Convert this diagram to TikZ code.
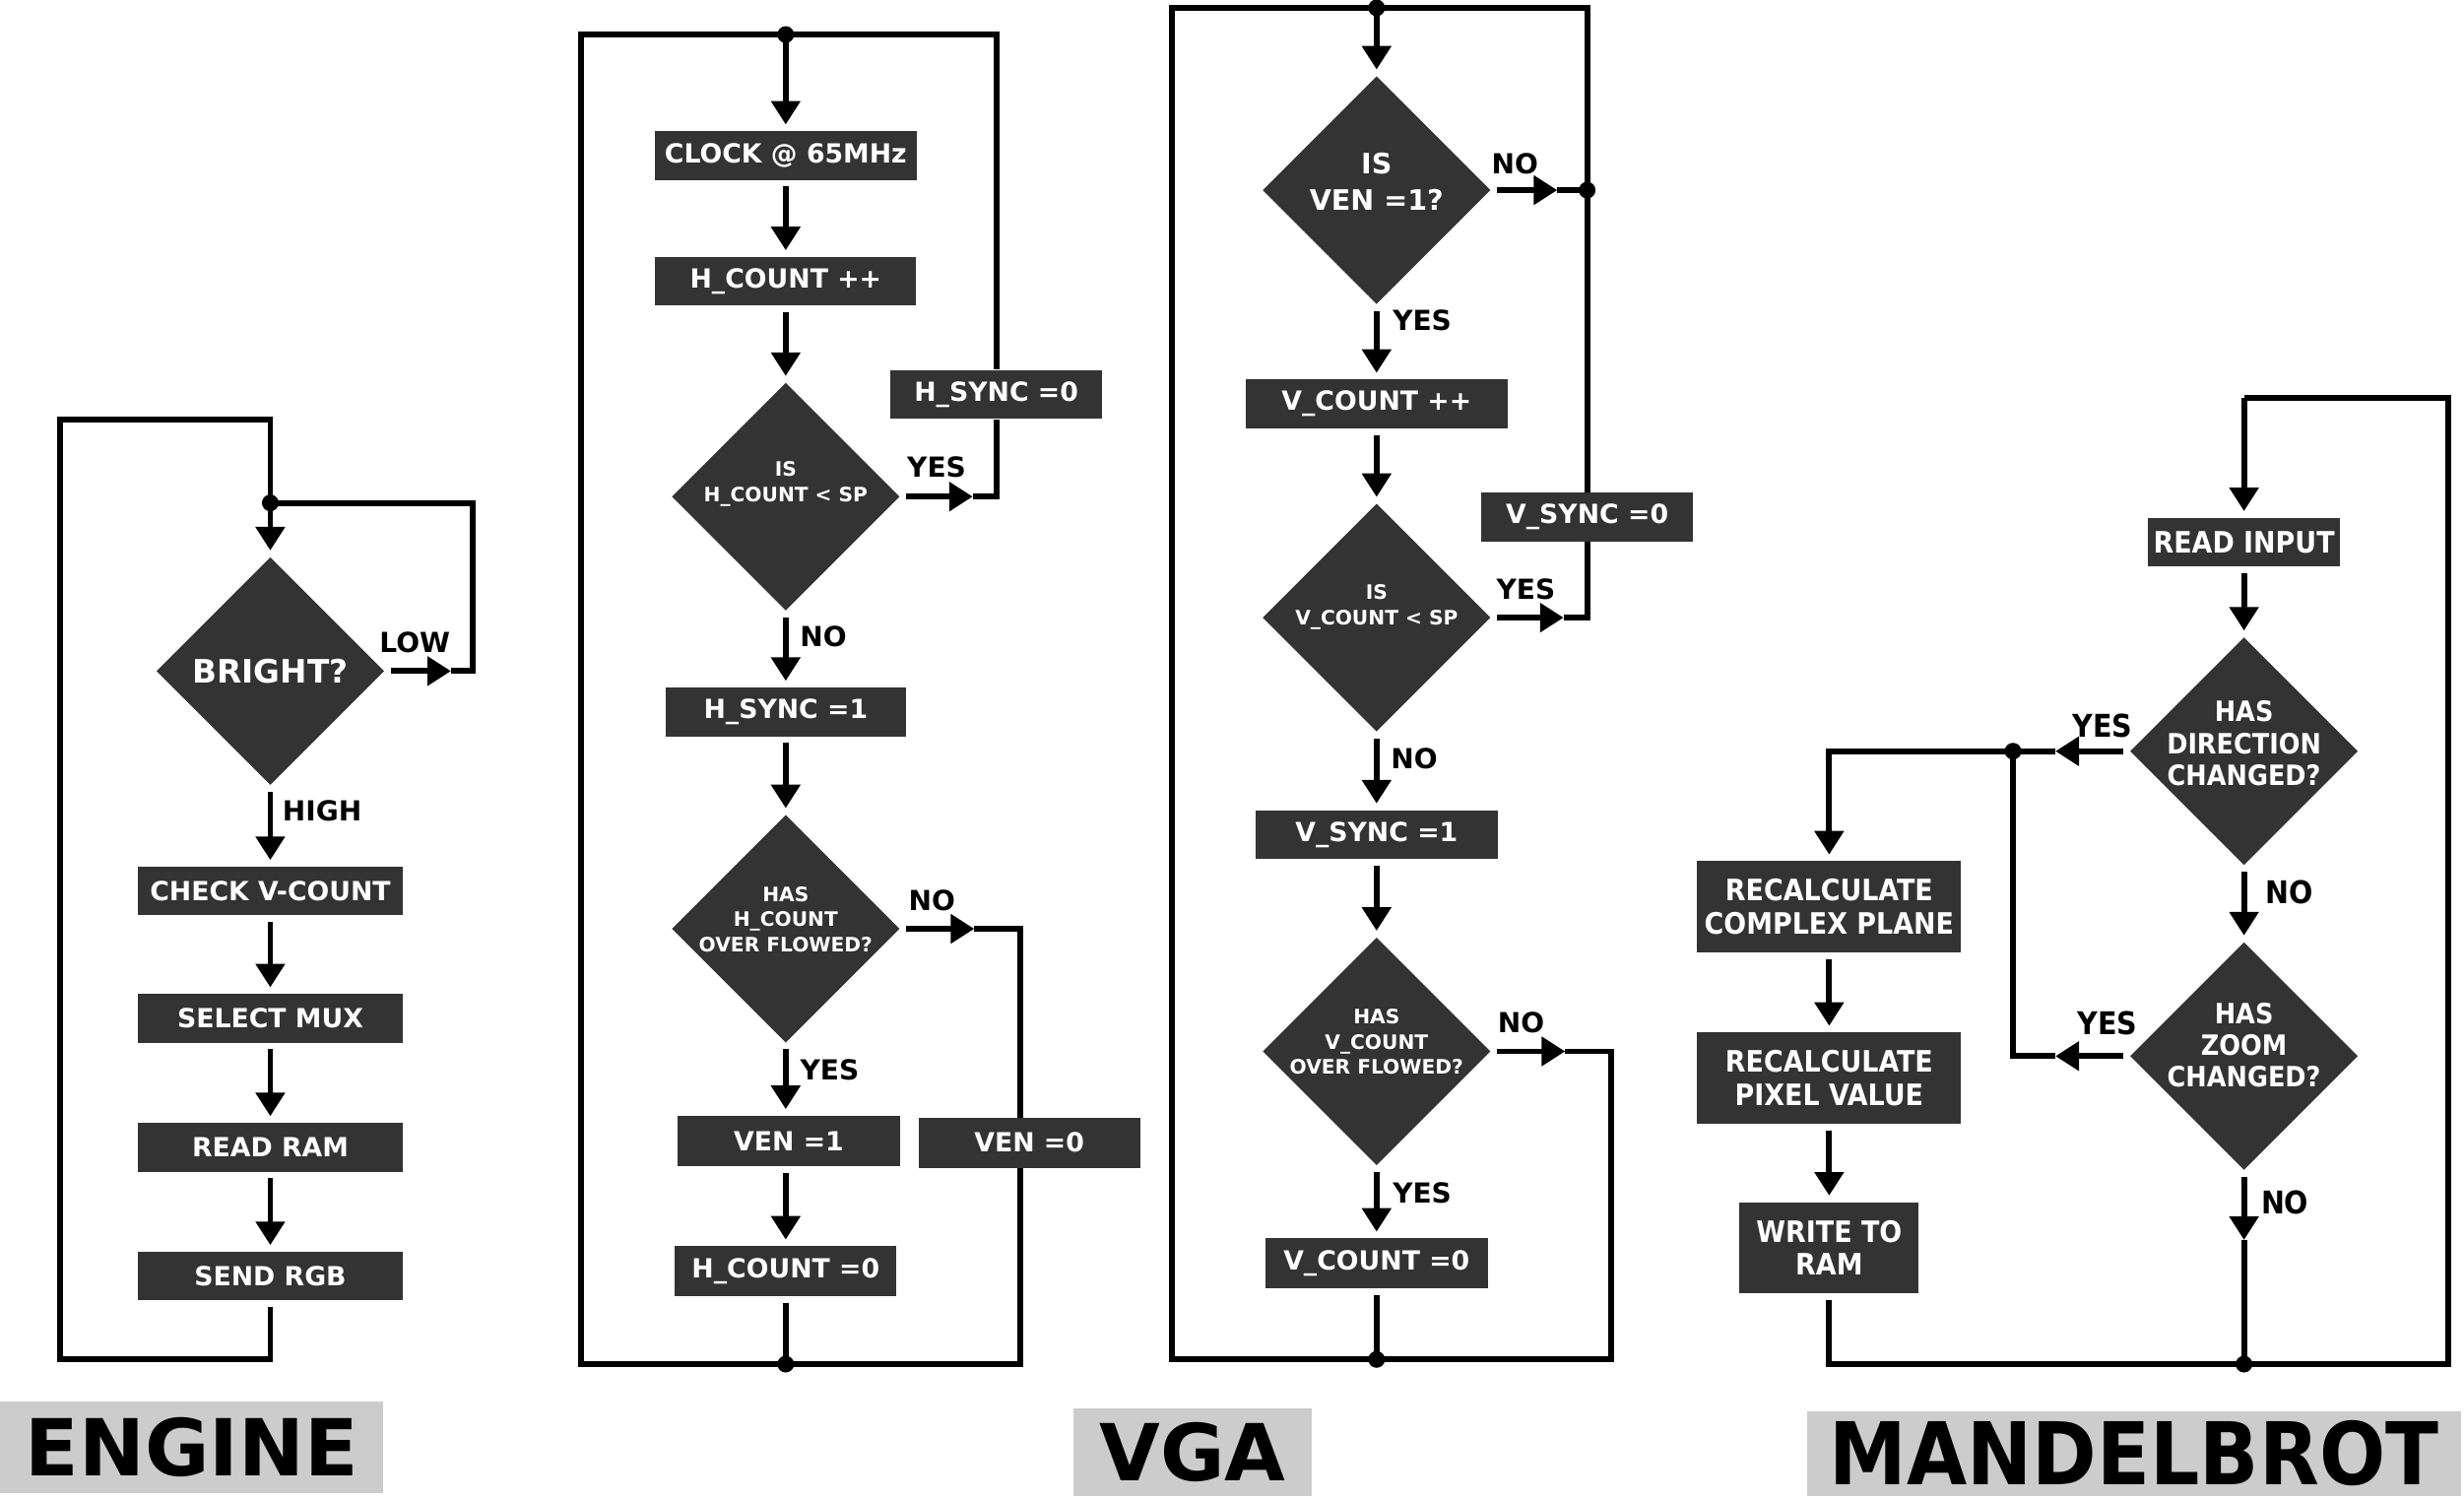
\documentclass[tikz,border=0pt]{standalone}
\usepackage{fontspec}
\setmainfont{DejaVu Sans}
\newfontfamily\condensed{DejaVu Sans Condensed}
\usetikzlibrary{shapes.geometric,arrows.meta}
\definecolor{boxgray}{HTML}{333333}
\definecolor{labelgray}{HTML}{CCCCCC}
\tikzset{
  box/.style={fill=boxgray, text=white, inner sep=0pt, minimum height=0.93cm, align=center,
    font=\fontsize{14.3}{17}\selectfont\bfseries},
  mbox/.style={box, minimum height=1.74cm, font=\condensed\fontsize{16}{18}\selectfont\bfseries},
  decision/.style={diamond, fill=boxgray, inner sep=0pt, minimum width=4.35cm, minimum height=4.35cm},
  dtext/.style={text=white, align=center, font=\fontsize{10.8}{13.7}\selectfont\bfseries},
  btext/.style={dtext, font=\fontsize{17.5}{20}\selectfont\bfseries},
  vtext/.style={dtext, font=\fontsize{15.3}{19.6}\selectfont\bfseries},
  mtext/.style={dtext, font=\condensed\fontsize{15.2}{17.2}\selectfont\bfseries},
  lbl/.style={font=\fontsize{15}{18}\selectfont\bfseries},
  mlbl/.style={font=\condensed\fontsize{17}{20}\selectfont\bfseries},
  title/.style={fill=labelgray, inner sep=0pt, font=\fontsize{42.7}{50}\selectfont\bfseries},
  mtitle/.style={title, font=\condensed\fontsize{47}{55}\selectfont\bfseries},
  wire/.style={line width=0.11cm},
  flow/.style={wire, -{Triangle[width=0.54cm,length=0.45cm]}, shorten <=0.12cm, shorten >=0.12cm}
}
\begin{document}
\begin{tikzpicture}[x=0.03cm, y=-0.03cm]
\useasboundingbox (0,0) rectangle (1568,954);

% ENGINE
\node[decision, label={[btext]center:BRIGHT?}] (bright) at (172,427) {};
\node[box, minimum width=5.04cm] (check) at (172,567) {CHECK V-COUNT};
\node[box, minimum width=5.04cm] (selmux) at (172,648) {SELECT MUX};
\node[box, minimum width=5.04cm] (readram) at (172,730) {READ RAM};
\node[box, minimum width=5.04cm] (sendrgb) at (172,812) {SEND RGB};
\coordinate (eDot) at (172,320);
\coordinate (eTip) at (287,427);
\coordinate (eLow) at (301,427);
\coordinate (eBot) at (38,865);
\coordinate (eTop) at (38,267);
\node[lbl] (lowL) at (264,409) {LOW};
\node[lbl] (highL) at (205,516) {HIGH};
\draw[flow, shorten <=0pt] (eDot) -- (bright.north);
\draw[flow, shorten >=0pt] (bright.east) -- (eTip);
\draw[wire] (eTip) -- (eLow) |- (eDot);
\draw[flow] (bright.south) -- (check.north);
\draw[flow] (check.south) -- (selmux.north);
\draw[flow] (selmux.south) -- (readram.north);
\draw[flow] (readram.south) -- (sendrgb.north);
\draw[wire, shorten <=0.12cm] (sendrgb.south) |- (eBot) -- (eTop) -| (eDot);
\fill (eDot) circle (0.16cm);
\node[title, minimum width=7.32cm, minimum height=1.74cm] (engine) at (122,921) {ENGINE};

% VGA, horizontal
\node[box, minimum width=5.01cm] (clock) at (500,99) {CLOCK @ 65MHz};
\node[box, minimum width=4.98cm] (hinc) at (500,179) {H\_COUNT ++};
\node[decision, label={[dtext,yshift=0.24cm]center:{IS\\H\_COUNT < SP}}] (hcmp) at (500,316) {};
\node[box, minimum width=4.05cm] (hsync0) at (634,251) {H\_SYNC =0};
\node[box, minimum width=4.59cm] (hsync1) at (500,453) {H\_SYNC =1};
\node[decision, label={[dtext,yshift=0.18cm]center:{HAS\\H\_COUNT\\OVER FLOWED?}}] (hovf) at (500,591) {};
\node[box, minimum width=4.26cm, minimum height=0.96cm] (ven1) at (502,726) {VEN =1};
\node[box, minimum width=4.23cm, minimum height=0.96cm] (hzero) at (500,809) {H\_COUNT =0};
\coordinate (hDotT) at (500,22);
\coordinate (hDotB) at (500,868);
\coordinate (hBL) at (370,868);
\coordinate (hTip1) at (619,316);
\coordinate (hTip2) at (620,591);
\coordinate (hNo) at (649,591);
\node[lbl] (hYes1) at (596,297) {YES};
\node[lbl] (hNo1) at (524,405) {NO};
\node[lbl] (hNo2) at (593,573) {NO};
\node[lbl] (hYes2) at (528,681) {YES};
\draw[wire] (hDotB) -- (hBL) |- (hDotT) -| (hsync0.north);
\draw[wire] (hsync0.south) |- (hTip1);
\draw[flow, shorten >=0pt] (hcmp.east) -- (hTip1);
\draw[flow, shorten >=0pt] (hovf.east) -- (hTip2);
\draw[wire] (hTip2) -- (hNo) |- (hDotB);
\draw[wire, shorten <=0.12cm] (hzero.south) -- (hDotB);
\draw[flow, shorten <=0pt] (hDotT) -- (clock.north);
\draw[flow] (clock.south) -- (hinc.north);
\draw[flow] (hinc.south) -- (hcmp.north);
\draw[flow] (hcmp.south) -- (hsync1.north);
\draw[flow] (hsync1.south) -- (hovf.north);
\draw[flow] (hovf.south) -- (hovf.south |- ven1.north);
\draw[flow] (ven1.south -| hzero) -- (hzero.north);
\fill (hDotT) circle (0.16cm);
\fill (hDotB) circle (0.16cm);
% drawn after the wire so that it sits on top of it
\node[box, minimum width=4.23cm, minimum height=0.96cm] (ven0) at (655,727) {VEN =0};

% VGA, vertical
\node[decision, label={[vtext,yshift=0.165cm]center:{IS\\VEN =1?}}] (vdec) at (876,121) {};
\node[box, minimum width=5.01cm] (vinc) at (876,257) {V\_COUNT ++};
\node[decision, label={[dtext,yshift=0.2cm]center:{IS\\V\_COUNT < SP}}] (vcmp) at (876,393) {};
\node[box, minimum width=4.05cm] (vsync0) at (1010,329) {V\_SYNC =0};
\node[box, minimum width=4.62cm] (vsync1) at (876,531) {V\_SYNC =1};
\node[decision, label={[dtext,yshift=0.18cm]center:{HAS\\V\_COUNT\\OVER FLOWED?}}] (vovf) at (876,669) {};
\node[box, minimum width=4.26cm, minimum height=0.96cm] (vzero) at (876,804) {V\_COUNT =0};
\coordinate (vDotT) at (876,5);
\coordinate (vDotR) at (1010,121);
\coordinate (vDotB) at (876,865);
\coordinate (vBL) at (746,865);
\coordinate (vTip1) at (991,121);
\coordinate (vTip2) at (995,393);
\coordinate (vTip3) at (996,669);
\coordinate (vNo) at (1025,669);
\node[lbl] (vNo1) at (964,104) {NO};
\node[lbl] (vYes1) at (905,204) {YES};
\node[lbl] (vYes2) at (971,375) {YES};
\node[lbl] (vNo2) at (900,483) {NO};
\node[lbl] (vNo3) at (968,651) {NO};
\node[lbl] (vYes3) at (905,759) {YES};
\draw[wire] (vDotB) -- (vBL) |- (vDotT) -| (vsync0.north);
\draw[flow, shorten >=0pt] (vdec.east) -- (vTip1);
\draw[wire] (vTip1) -- (vDotR);
\draw[wire] (vsync0.south) |- (vTip2);
\draw[flow, shorten >=0pt] (vcmp.east) -- (vTip2);
\draw[flow, shorten >=0pt] (vovf.east) -- (vTip3);
\draw[wire] (vTip3) -- (vNo) |- (vDotB);
\draw[wire, shorten <=0.12cm] (vzero.south) -- (vDotB);
\draw[flow, shorten <=0pt] (vDotT) -- (vdec.north);
\draw[flow] (vdec.south) -- (vinc.north);
\draw[flow] (vinc.south) -- (vcmp.north);
\draw[flow] (vcmp.south) -- (vsync1.north);
\draw[flow] (vsync1.south) -- (vovf.north);
\draw[flow] (vovf.south) -- (vzero.north);
\fill (vDotT) circle (0.16cm);
\fill (vDotR) circle (0.16cm);
\fill (vDotB) circle (0.16cm);
\node[title, minimum width=4.56cm, minimum height=1.68cm] (vga) at (759,924) {VGA};

% MANDELBROT
\node[mbox, minimum width=3.66cm, minimum height=0.93cm] (rdin) at (1428,345) {READ INPUT};
\node[decision, label={[mtext,yshift=0.15cm]center:{HAS\\DIRECTION\\CHANGED?}}] (mdir) at (1428,478) {};
\node[decision, label={[mtext,yshift=0.21cm]center:{HAS\\ZOOM\\CHANGED?}}] (mzoom) at (1428,672) {};
\node[mbox, minimum width=5.04cm] (recomp) at (1164,577) {RECALCULATE\\COMPLEX PLANE};
\node[mbox, minimum width=5.04cm] (repix) at (1164,686) {RECALCULATE\\PIXEL VALUE};
\node[mbox, minimum width=3.42cm] (wram) at (1164,794) {WRITE TO\\RAM};
\coordinate (mTop) at (1428,253);
\coordinate (mDot) at (1428,868);
\coordinate (mBR) at (1558,868);
\coordinate (mJoin) at (1281,478);
\coordinate (mTip1) at (1308,478);
\coordinate (mTip2) at (1308,672);
\coordinate (mTip3) at (1428,789);
\node[mlbl] (mYes1) at (1338,462) {YES};
\node[mlbl] (mNo1) at (1457,568) {NO};
\node[mlbl] (mYes2) at (1341,651) {YES};
\node[mlbl] (mNo2) at (1454,765) {NO};
\draw[wire, shorten <=0.12cm] (wram.south) |- (mDot) -- (mBR) |- (mTop);
\draw[flow, shorten <=0pt] (mTop) -- (rdin.north);
\draw[flow] (rdin.south) -- (mdir.north);
\draw[flow] (mdir.south) -- (mzoom.north);
\draw[flow, shorten >=0pt] (mdir.west) -- (mTip1);
\draw[wire] (mTip1) -- (mJoin);
\draw[flow, shorten <=0pt] (mJoin) -| (recomp.north);
\draw[flow, shorten >=0pt] (mzoom.west) -- (mTip2);
\draw[wire] (mTip2) -| (mJoin);
\draw[flow, shorten >=0pt] (mzoom.south) -- (mTip3);
\draw[wire] (mTip3) -- (mDot);
\draw[flow] (recomp.south) -- (repix.north);
\draw[flow] (repix.south) -- (wram.north);
\fill (mJoin) circle (0.16cm);
\fill (mDot) circle (0.16cm);
\node[mtitle, minimum width=12.48cm, minimum height=1.62cm] (mandel) at (1358,925) {MANDELBROT};
\end{tikzpicture}
\end{document}
